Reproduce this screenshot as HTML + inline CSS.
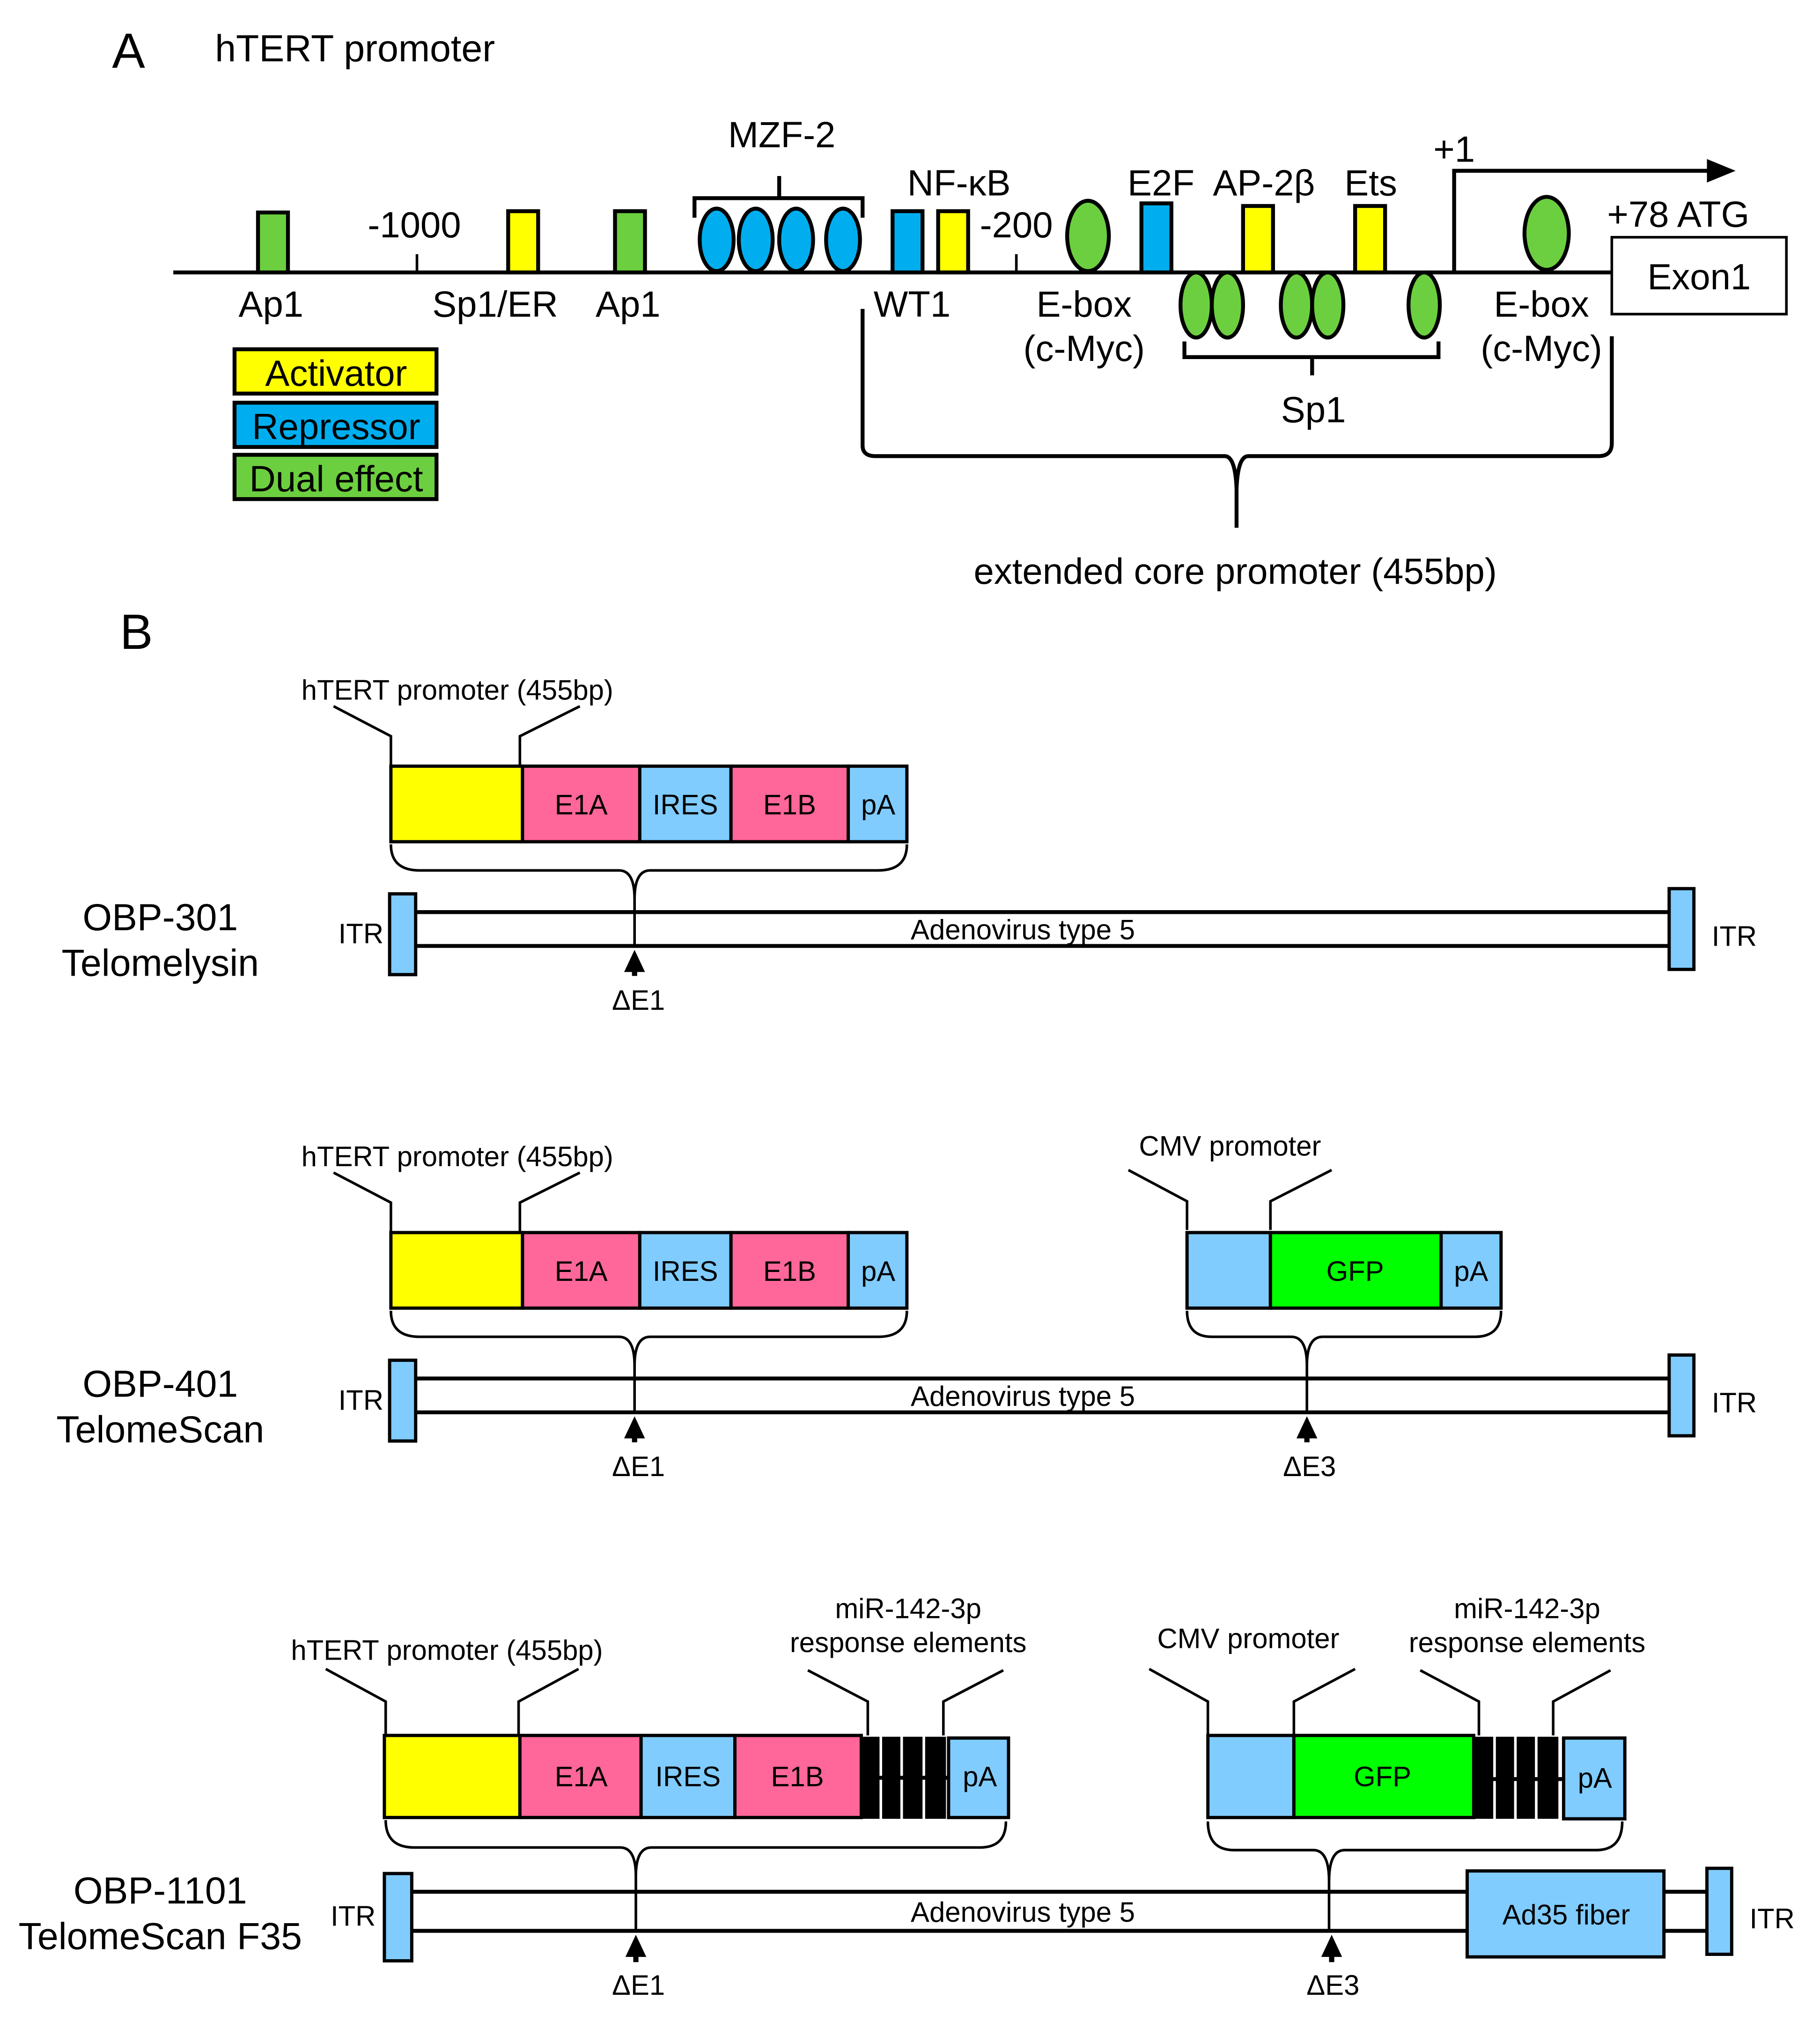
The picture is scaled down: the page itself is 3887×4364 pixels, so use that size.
<!DOCTYPE html>
<html><head><meta charset="utf-8"><style>
html,body{margin:0;padding:0;background:#fff;}
svg{display:block;}
text{font-family:"Liberation Sans",Arial,sans-serif;fill:#000;}
</style></head><body>
<svg width="3887" height="4364" viewBox="0 0 1387 1557" xmlns="http://www.w3.org/2000/svg">
<rect width="1387" height="1557" fill="#fff"/>
<g transform="scale(0.993)">
<!-- Part A -->
<text x="86" y="52" font-size="38">A</text>
<text x="165" y="47" font-size="29">hTERT promoter</text>
<g stroke="#000" stroke-width="3" fill="none">
<line x1="133" y1="209" x2="1238" y2="209"/>
<line x1="320" y1="195" x2="320" y2="209" stroke-width="2"/>
<line x1="780" y1="195" x2="780" y2="209" stroke-width="2"/>
</g>
<g stroke="#000" stroke-width="3">
<rect x="198" y="163" width="23" height="46" fill="#6ccf3f"/>
<rect x="390" y="162" width="23" height="47" fill="#ffff00"/>
<rect x="472" y="162" width="23" height="47" fill="#6ccf3f"/>
<rect x="685" y="162" width="23" height="47" fill="#00aeef"/>
<rect x="720" y="162" width="23" height="47" fill="#ffff00"/>
<rect x="876" y="156" width="23" height="53" fill="#00aeef"/>
<rect x="954" y="158" width="23" height="51" fill="#ffff00"/>
<rect x="1040" y="158" width="23" height="51" fill="#ffff00"/>
<g fill="#00aeef">
<ellipse cx="550" cy="184" rx="13" ry="24"/><ellipse cx="580" cy="184" rx="13" ry="24"/>
<ellipse cx="611" cy="184" rx="13" ry="24"/><ellipse cx="647" cy="184" rx="13" ry="24"/>
</g>
<g fill="#6ccf3f">
<ellipse cx="835" cy="181" rx="16" ry="27"/>
<ellipse cx="1187" cy="179" rx="17" ry="28"/>
<ellipse cx="918" cy="234" rx="12" ry="25"/><ellipse cx="942" cy="234" rx="12" ry="25"/>
<ellipse cx="995" cy="234" rx="12" ry="25"/><ellipse cx="1019" cy="234" rx="12" ry="25"/>
<ellipse cx="1093" cy="234" rx="12" ry="25"/>
</g>
</g>
<g stroke="#000" stroke-width="3" fill="none">
<path d="M533,167 L533,152 L662,152 L662,167 M598,152 L598,135"/>
<path d="M909,262 L909,274 L1104,274 L1104,262 M1007,274 L1007,288"/>
<path d="M1116,209 L1116,131 L1312,131"/>
<path d="M662,237 L662,342 Q662,350 672,350 L940,350 Q948,350 949,375 L949,405 M949,375 Q950,350 958,350 L1227,350 Q1237,350 1237,340 L1237,258"/>
</g>
<polygon points="1310,122 1332,131 1310,140" fill="#000"/>
<rect x="1237" y="182" width="134" height="59" fill="#fff" stroke="#000" stroke-width="2"/>
<g font-size="28" text-anchor="middle">
<text x="600" y="113">MZF-2</text>
<text x="736" y="150">NF-κB</text>
<text x="891" y="150">E2F</text>
<text x="970" y="150">AP-2β</text>
<text x="1052" y="150">Ets</text>
<text x="1116" y="124">+1</text>
<text x="318" y="182">-1000</text>
<text x="780" y="182">-200</text>
<text x="1288" y="174">+78 ATG</text>
<text x="1304" y="222">Exon1</text>
<text x="208" y="243">Ap1</text>
<text x="380" y="243">Sp1/ER</text>
<text x="482" y="243">Ap1</text>
<text x="700" y="243">WT1</text>
<text x="832" y="243">E-box</text>
<text x="832" y="277">(c-Myc)</text>
<text x="1183" y="243">E-box</text>
<text x="1183" y="277">(c-Myc)</text>
<text x="1008" y="324">Sp1</text>
<text x="948" y="448">extended core promoter (455bp)</text>
</g>
<g stroke="#000" stroke-width="3">
<rect x="180" y="268" width="155" height="34" fill="#ffff00"/>
<rect x="180" y="309" width="155" height="34" fill="#00aeef"/>
<rect x="180" y="349" width="155" height="34" fill="#6ccf3f"/>
</g>
<g font-size="28" text-anchor="middle">
<text x="258" y="296">Activator</text>
<text x="258" y="337">Repressor</text>
<text x="258" y="377">Dual effect</text>
</g>

<!-- Part B -->
<text x="92" y="498" font-size="38">B</text>
<g font-size="29" text-anchor="middle">
<text x="123" y="714">OBP-301</text><text x="123" y="749">Telomelysin</text>
<text x="123" y="1072">OBP-401</text><text x="123" y="1107">TelomeScan</text>
<text x="123" y="1461">OBP-1101</text><text x="123" y="1496">TelomeScan F35</text>
</g>

<!-- Construct 1 -->
<g stroke="#000" stroke-width="2" fill="none">
<path d="M256,542 L300,565 L300,588 M445,542 L399,565 L399,588"/>
<path d="M300,648 Q300,668 322,668 L475,668 Q487,668 487,690 L487,726 M487,690 Q487,668 499,668 L674,668 Q696,668 696,648"/>
</g>
<g stroke="#000" stroke-width="2.5">
<rect x="300" y="588" width="101" height="58" fill="#ffff00"/>
<rect x="401" y="588" width="90" height="58" fill="#ff6699"/>
<rect x="491" y="588" width="70" height="58" fill="#80ccff"/>
<rect x="561" y="588" width="90" height="58" fill="#ff6699"/>
<rect x="651" y="588" width="45" height="58" fill="#80ccff"/>
</g>
<g stroke="#000" stroke-width="3">
<line x1="319" y1="700" x2="1281" y2="700"/><line x1="319" y1="726" x2="1281" y2="726"/>
</g>
<g stroke="#000" stroke-width="2.5" fill="#80ccff">
<rect x="299" y="686" width="20" height="62"/><rect x="1281" y="682" width="19" height="62"/>
</g>
<polygon points="487,729 479,746 495,746" fill="#000"/><rect x="485" y="745" width="4" height="4" fill="#000"/>

<!-- Construct 2 -->
<g stroke="#000" stroke-width="2" fill="none">
<path d="M256,900 L300,923 L300,946 M445,900 L399,923 L399,946"/>
<path d="M300,1006 Q300,1026 322,1026 L475,1026 Q487,1026 487,1048 L487,1084 M487,1048 Q487,1026 499,1026 L674,1026 Q696,1026 696,1006"/>
<path d="M866,898 L911,922 L911,944 M1022,898 L975,922 L975,944"/>
<path d="M911,1006 Q911,1026 930,1026 L991,1026 Q1003,1026 1003,1048 L1003,1084 M1003,1048 Q1003,1026 1015,1026 L1132,1026 Q1152,1026 1152,1006"/>
</g>
<g stroke="#000" stroke-width="2.5">
<rect x="300" y="946" width="101" height="58" fill="#ffff00"/>
<rect x="401" y="946" width="90" height="58" fill="#ff6699"/>
<rect x="491" y="946" width="70" height="58" fill="#80ccff"/>
<rect x="561" y="946" width="90" height="58" fill="#ff6699"/>
<rect x="651" y="946" width="45" height="58" fill="#80ccff"/>
<rect x="911" y="946" width="64" height="58" fill="#80ccff"/>
<rect x="975" y="946" width="131" height="58" fill="#00ff00"/>
<rect x="1106" y="946" width="46" height="58" fill="#80ccff"/>
</g>
<g stroke="#000" stroke-width="3">
<line x1="319" y1="1058" x2="1281" y2="1058"/><line x1="319" y1="1084" x2="1281" y2="1084"/>
</g>
<g stroke="#000" stroke-width="2.5" fill="#80ccff">
<rect x="299" y="1044" width="20" height="62"/><rect x="1281" y="1040" width="19" height="62"/>
</g>
<polygon points="487,1087 479,1104 495,1104" fill="#000"/><rect x="485" y="1103" width="4" height="4" fill="#000"/>
<polygon points="1003,1087 995,1104 1011,1104" fill="#000"/><rect x="1001" y="1103" width="4" height="4" fill="#000"/>

<!-- Construct 3 -->
<g stroke="#000" stroke-width="2" fill="none">
<path d="M250,1281 L296,1306 L296,1332 M444,1281 L398,1306 L398,1332"/>
<path d="M620,1282 L666,1306 L666,1332 M770,1282 L724,1306 L724,1332"/>
<path d="M882,1281 L927,1306 L927,1332 M1040,1281 L993,1306 L993,1332"/>
<path d="M1090,1282 L1135,1306 L1135,1332 M1236,1282 L1192,1306 L1192,1332"/>
<path d="M296,1397 Q296,1418 318,1418 L476,1418 Q488,1418 488,1440 L488,1482 M488,1440 Q488,1418 500,1418 L752,1418 Q772,1418 772,1398"/>
<path d="M927,1398 Q927,1420 947,1420 L1008,1420 Q1020,1420 1020,1444 L1020,1482 M1020,1444 Q1020,1420 1032,1420 L1225,1420 Q1245,1420 1245,1398"/>
</g>
<g stroke="#000" stroke-width="2.5">
<rect x="295" y="1332" width="104" height="63" fill="#ffff00"/>
<rect x="399" y="1332" width="93" height="63" fill="#ff6699"/>
<rect x="492" y="1332" width="72" height="63" fill="#80ccff"/>
<rect x="564" y="1332" width="97" height="63" fill="#ff6699"/>
<rect x="728" y="1334" width="46" height="61" fill="#80ccff"/>
<rect x="927" y="1332" width="66" height="63" fill="#80ccff"/>
<rect x="993" y="1332" width="138" height="63" fill="#00ff00"/>
<rect x="1200" y="1334" width="47" height="62" fill="#80ccff"/>
</g>
<g fill="#000">
<rect x="661" y="1333" width="14" height="63"/><rect x="677" y="1333" width="14" height="63"/>
<rect x="693" y="1333" width="15" height="63"/><rect x="710" y="1333" width="16" height="63"/>
<rect x="1131" y="1333" width="15" height="63"/><rect x="1148" y="1333" width="14" height="63"/>
<rect x="1164" y="1333" width="14" height="63"/><rect x="1180" y="1333" width="16" height="63"/>
<rect x="661" y="1363" width="67" height="3"/><rect x="1131" y="1364" width="69" height="3"/>
</g>
<g stroke="#000" stroke-width="3">
<line x1="316" y1="1452" x2="1310" y2="1452"/><line x1="316" y1="1482" x2="1310" y2="1482"/>
</g>
<g stroke="#000" stroke-width="2.5" fill="#80ccff">
<rect x="295" y="1438" width="21" height="67"/><rect x="1310" y="1434" width="19" height="66"/>
<rect x="1126" y="1436" width="151" height="66"/>
</g>
<polygon points="488,1485 480,1502 496,1502" fill="#000"/><rect x="486" y="1501" width="4" height="5" fill="#000"/>
<polygon points="1022,1485 1014,1502 1030,1502" fill="#000"/><rect x="1020" y="1501" width="4" height="5" fill="#000"/>

<g font-size="21.5" text-anchor="middle">
<text x="446" y="625">E1A</text><text x="526" y="625">IRES</text><text x="606" y="625">E1B</text><text x="674" y="625">pA</text>
<text x="446" y="983">E1A</text><text x="526" y="983">IRES</text><text x="606" y="983">E1B</text><text x="674" y="983">pA</text>
<text x="1040" y="983">GFP</text><text x="1129" y="983">pA</text>
<text x="446" y="1371">E1A</text><text x="528" y="1371">IRES</text><text x="612" y="1371">E1B</text><text x="752" y="1371">pA</text>
<text x="1061" y="1371">GFP</text><text x="1224" y="1372">pA</text>
<text x="1202" y="1477">Ad35 fiber</text>
</g>
<g font-size="21.5" text-anchor="middle">
<text x="351" y="537">hTERT promoter (455bp)</text>
<text x="351" y="895">hTERT promoter (455bp)</text>
<text x="944" y="887">CMV promoter</text>
<text x="343" y="1274">hTERT promoter (455bp)</text>
<text x="697" y="1242">miR-142-3p</text><text x="697" y="1268">response elements</text>
<text x="958" y="1265">CMV promoter</text>
<text x="1172" y="1242">miR-142-3p</text><text x="1172" y="1268">response elements</text>
<text x="785" y="721">Adenovirus type 5</text>
<text x="785" y="1079">Adenovirus type 5</text>
<text x="785" y="1475">Adenovirus type 5</text>
<text x="277" y="724">ITR</text><text x="1331" y="726">ITR</text>
<text x="277" y="1082">ITR</text><text x="1331" y="1084">ITR</text>
<text x="271" y="1478">ITR</text><text x="1360" y="1480">ITR</text>
<text x="490" y="775">ΔE1</text>
<text x="490" y="1133">ΔE1</text><text x="1005" y="1133">ΔE3</text>
<text x="490" y="1531">ΔE1</text><text x="1023" y="1531">ΔE3</text>
</g>
</g>
</svg>
</body></html>
